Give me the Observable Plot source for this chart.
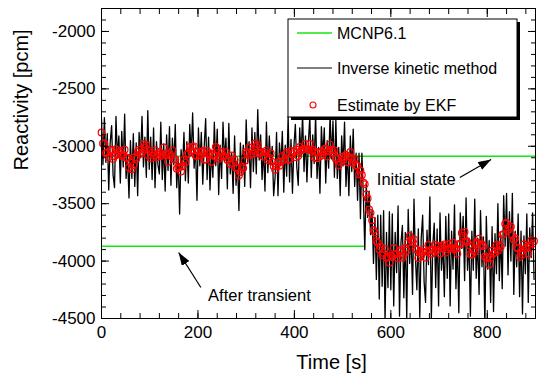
<!DOCTYPE html>
<html><head><meta charset="utf-8">
<script src="https://cdn.jsdelivr.net/npm/d3@7"></script>
<script src="https://cdn.jsdelivr.net/npm/@observablehq/plot@0.6"></script>
<style>
html,body{margin:0;padding:0;background:#fff;}
#chart{width:539px;height:373px;}
svg{font-family:"Liberation Sans",Arial,sans-serif;}
</style></head><body><div id="chart"></div>
<script>
// time step between samples [s]
const timeStep = 3;

// Estimate by EKF [pcm], one value every 3 s from t = 0
const ekf = [
-2880,-2975,-2975,-3060,-3055,-3095,-3035,-3030,-3110,-3085,-3025,-3070,-3050,-3040,-3085,-3075,-3030,-3100,-3100,-3185,
-3140,-3200,-3165,-3095,-3110,-3050,-3030,-3065,-3055,-2980,-3010,-2990,-3075,-3040,-3105,-3055,-3080,-3035,-3095,-3075,
-3050,-3085,-3075,-3010,-3070,-3070,-3135,-3060,-3085,-3035,-3110,-3115,-3195,-3185,-3180,-3220,-3175,-3115,-3140,-3070,
-3060,-3005,-3035,-3005,-3000,-3080,-3085,-3045,-3080,-3050,-3040,-3115,-3115,-3040,-3070,-3060,-3135,-3070,-3085,-3005,
-3025,-3110,-3090,-3050,-3085,-3085,-3050,-3120,-3110,-3155,-3080,-3145,-3115,-3190,-3185,-3255,-3225,-3180,-3190,-3125,
-3050,-3060,-3010,-3075,-3040,-3065,-2975,-3000,-2985,-3065,-3055,-3050,-3090,-3055,-3035,-3120,-3100,-3060,-3135,-3175,
-3205,-3175,-3140,-3170,-3135,-3085,-3120,-3070,-3050,-3115,-3115,-3040,-3070,-3050,-3095,-3030,-3085,-3005,-3040,-3025,
-3020,-2980,-3025,-3025,-2980,-3040,-3030,-3095,-3050,-3105,-3055,-3090,-3045,-3075,-3025,-3020,-3090,-3045,-2985,-3030,
-3055,-3035,-3110,-3105,-3165,-3135,-3090,-3120,-3095,-3075,-3140,-3090,-3050,-3115,-3145,-3110,-3170,-3170,-3245,-3210,
-3250,-3315,-3330,-3420,-3455,-3550,-3580,-3645,-3730,-3750,-3825,-3840,-3900,-3875,-3950,-3930,-3895,-3970,-3965,-4015,
-3950,-3965,-3885,-3940,-3935,-3975,-3915,-3900,-3970,-3945,-3885,-3910,-3840,-3780,-3815,-3835,-3810,-3890,-3900,-3975,
-3920,-3950,-3915,-3895,-3970,-3920,-3860,-3905,-3935,-3900,-3920,-3860,-3905,-3870,-3935,-3865,-3890,-3855,-3925,-3895,
-3850,-3885,-3885,-3840,-3900,-3890,-3935,-3850,-3855,-3755,-3780,-3745,-3825,-3835,-3860,-3940,-3945,-3905,-3920,-3840,
-3840,-3805,-3865,-3855,-3870,-3960,-3975,-3965,-4030,-3970,-3910,-3935,-3925,-3860,-3910,-3860,-3875,-3770,-3765,-3675,
-3665,-3730,-3710,-3700,-3775,-3815,-3800,-3880,-3890,-3965,-3920,-3945,-3855,-3890,-3875,-3935,-3875,-3820,-3850,-3825
];

// Inverse kinetic method [pcm], one value every 3 s from t = 0
const ikm = [
-2760,-3160,-2750,-3140,-2890,-3380,-2970,-2820,-3250,-3360,-2740,-3100,-2910,-3320,-2870,-3180,-2720,-3280,-3080,-3450,
-2950,-3280,-2890,-3350,-2970,-3430,-2880,-3100,-2740,-3180,-2920,-3270,-2690,-3200,-2920,-3290,-2840,-3360,-2960,-3160,
-3240,-2790,-3290,-2980,-3390,-2900,-3210,-2830,-3340,-2930,-3160,-2810,-3360,-3100,-3590,-3030,-3200,-2880,-3300,-2960,
-3320,-2810,-3080,-2710,-3190,-3010,-3470,-2840,-3170,-2880,-3330,-3000,-2760,-3290,-2920,-3380,-3040,-3270,-2790,-3170,
-2850,-3420,-2990,-3280,-2790,-3130,-2930,-3370,-2800,-3240,-3060,-3410,-2910,-3340,-3110,-3560,-2970,-3250,-2990,-3350,
-2770,-3150,-2960,-3360,-2840,-3220,-2880,-3240,-2680,-3120,-2900,-3290,-3020,-3390,-2790,-3230,-2910,-3160,-3000,-3430,
-3270,-2880,-3430,-2970,-3170,-2870,-3400,-2990,-3260,-2740,-3310,-2940,-3410,-3000,-2810,-3180,-3340,-2840,-3090,-2720,
-3220,-2910,-3310,-2970,-2740,-3270,-2900,-3150,-2730,-3280,-3010,-3410,-2830,-3090,-2840,-3320,-2950,-3190,-2720,-3110,
-2780,-3270,-2770,-3280,-3010,-3430,-2910,-3170,-2790,-3350,-3050,-3430,-2910,-3220,-2850,-3350,-3060,-3470,-3060,-3630,
-3060,-3420,-3900,-3320,-3620,-3390,-3770,-3560,-4020,-3620,-4160,-3600,-4330,-3600,-4220,-3560,-4530,-3750,-4230,-3570,
-4250,-3590,-4390,-3750,-4100,-3520,-4480,-3840,-3690,-4320,-3750,-4500,-3550,-4020,-3740,-4290,-3460,-3970,-4250,-3720,
-4490,-3800,-3600,-4180,-4360,-3730,-4030,-3440,-4510,-3860,-3670,-4230,-3720,-4390,-3580,-4080,-3840,-4310,-3610,-4150,
-3590,-4390,-3740,-4070,-3510,-4240,-3840,-4450,-3580,-3890,-3610,-4170,-3450,-4080,-3800,-4480,-3740,-4080,-3460,-4150,
-3800,-4290,-3560,-4050,-3790,-4570,-3610,-4070,-3820,-4360,-3700,-4440,-3760,-4110,-3500,-4170,-3770,-4240,-3430,-3870,
-3410,-4120,-3570,-4000,-3410,-4290,-3740,-4050,-3590,-4310,-3740,-4460,-3780,-4110,-3590,-4360,-3710,-3970,-3580,-4160
];

// MCNP6.1 reference values [pcm]
const mcnpInitial = -3086;
const mcnpAfter = -3870;
const mcnpAfterEndTime = 548;

const legendLabels = ["MCNP6.1", "Inverse kinetic method", "Estimate by EKF"];
const xMajorTicks = [0, 200, 400, 600, 800];
const yMajorTicks = [-4500, -4000, -3500, -3000, -2500, -2000];
const xDomain = [0, 900];
const yDomain = [-4500, -1800];
const xMinorTicks = d3.range(0, 901, 40);
const yMinorTicks = d3.range(-4500, -1799, 100);

const annotations = [
  {label: "Initial state", x: 571, y: -3290},
  {label: "After transient", x: 221, y: -4300}
];
const arrows = [
  {x1: 743, y1: -3272, x2: 808, y2: -3115},
  {x1: 206, y1: -4230, x2: 160, y2: -3925}
];

const ekfRows = ekf.map((v, i) => ({t: i * timeStep, v}));
const ikmRows = ikm.map((v, i) => ({t: i * timeStep, v}));
const mcnpRows = [
  {x1: xDomain[0], x2: xDomain[1], y: mcnpInitial},
  {x1: xDomain[0], x2: mcnpAfterEndTime, y: mcnpAfter}
];

const GREEN = "#14e614";
const fmt = d => String(d).replace("\u2212", "-");
const noText = () => "";

const plot = Plot.plot({
  width: 539, height: 373,
  marginLeft: 101, marginRight: 4, marginTop: 8, marginBottom: 55,
  x: {domain: xDomain},
  y: {domain: yDomain},
  style: {fontFamily: '"Liberation Sans", Arial, sans-serif', background: "white"},
  marks: [
    Plot.ruleY(mcnpRows, {x1: "x1", x2: "x2", y: "y", stroke: GREEN, strokeWidth: 1.5}),
    Plot.line(ikmRows, {x: "t", y: "v", stroke: "black", strokeWidth: 1.3, clip: true}),
    Plot.dot(ekfRows, {x: "t", y: "v", r: 3.3, stroke: "#ff0000", strokeWidth: 1.2, fill: "none"}),
    // inward ticks on all four sides
    Plot.axisX(xMajorTicks, {anchor: "bottom", tickSize: 8, insetBottom: 8, fill: "none", stroke: "black", label: null, tickFormat: noText}),
    Plot.axisX(xMinorTicks, {anchor: "bottom", tickSize: 5, insetBottom: 5, fill: "none", stroke: "black", label: null, tickFormat: noText}),
    Plot.axisX(xMajorTicks, {anchor: "top", tickSize: 8, insetTop: 8, fill: "none", stroke: "black", label: null, tickFormat: noText}),
    Plot.axisX(xMinorTicks, {anchor: "top", tickSize: 5, insetTop: 5, fill: "none", stroke: "black", label: null, tickFormat: noText}),
    Plot.axisY(yMajorTicks, {anchor: "left", tickSize: 8, insetLeft: 8, fill: "none", stroke: "black", label: null, tickFormat: noText}),
    Plot.axisY(yMinorTicks, {anchor: "left", tickSize: 5, insetLeft: 5, fill: "none", stroke: "black", label: null, tickFormat: noText}),
    Plot.axisY(yMajorTicks, {anchor: "right", tickSize: 8, insetRight: 8, fill: "none", stroke: "black", label: null, tickFormat: noText}),
    Plot.axisY(yMinorTicks, {anchor: "right", tickSize: 5, insetRight: 5, fill: "none", stroke: "black", label: null, tickFormat: noText}),
    // tick labels
    Plot.axisX(xMajorTicks, {anchor: "bottom", tickSize: 0, tickPadding: 7, label: null, fontSize: 17, tickFormat: fmt, fill: "black"}),
    Plot.axisY(yMajorTicks, {anchor: "left", tickSize: 0, tickPadding: 6, label: null, fontSize: 17, tickFormat: fmt, fill: "black"}),
    Plot.frame({stroke: "black", strokeWidth: 1}),
    // axis titles
    Plot.text(["Time [s]"], {frameAnchor: "bottom", dx: 13, dy: 44, text: d => d, fontSize: 20, lineAnchor: "middle", fill: "black"}),
    Plot.text(["Reactivity [pcm]"], {frameAnchor: "left", dx: -80, dy: 7, rotate: -90, text: d => d, fontSize: 20, lineAnchor: "middle", fill: "black"}),
    // annotations
    Plot.text(annotations, {x: "x", y: "y", text: "label", textAnchor: "start", fontSize: 16.5, fill: "black"}),
    Plot.link(arrows, {x1: "x1", y1: "y1", x2: "x2", y2: "y2", stroke: "black", strokeWidth: 1.2})
  ]
});

document.getElementById("chart").appendChild(plot);

const svg = d3.select(plot);
// filled arrow heads
const defs = svg.insert("defs", ":first-child");
defs.append("marker").attr("id", "ah").attr("viewBox", "0 0 13 9").attr("refX", 13).attr("refY", 4.5)
  .attr("markerWidth", 13).attr("markerHeight", 9).attr("markerUnits", "userSpaceOnUse").attr("orient", "auto")
  .append("path").attr("d", "M0,0L13,4.5L0,9Z").attr("fill", "black");
svg.selectAll('g[aria-label="link"] path').attr("marker-end", "url(#ah)");

// legend
const lg = svg.append("g").attr("font-size", 16).attr("fill", "black").attr("text-anchor", "start");
const bx = 288, by = 19, bw = 229, bh = 98;
lg.append("rect").attr("x", bx + 3).attr("y", by + 3).attr("width", bw).attr("height", bh).attr("fill", "black");
lg.append("rect").attr("x", bx).attr("y", by).attr("width", bw).attr("height", bh).attr("fill", "white").attr("stroke", "black");
const rowY = [by + 14, by + 49, by + 86];
lg.append("line").attr("x1", 297).attr("x2", 332).attr("y1", rowY[0]).attr("y2", rowY[0]).attr("stroke", GREEN).attr("stroke-width", 1.5);
lg.append("line").attr("x1", 297).attr("x2", 332).attr("y1", rowY[1]).attr("y2", rowY[1]).attr("stroke", "black").attr("stroke-width", 1);
lg.append("circle").attr("cx", 313).attr("cy", rowY[2]).attr("r", 3).attr("fill", "none").attr("stroke", "#ff0000").attr("stroke-width", 1.1);
legendLabels.forEach((s, i) => {
  lg.append("text").attr("x", 337).attr("y", rowY[i]).attr("dy", "0.36em").attr("text-anchor", "start").text(s);
});
</script></body></html>
